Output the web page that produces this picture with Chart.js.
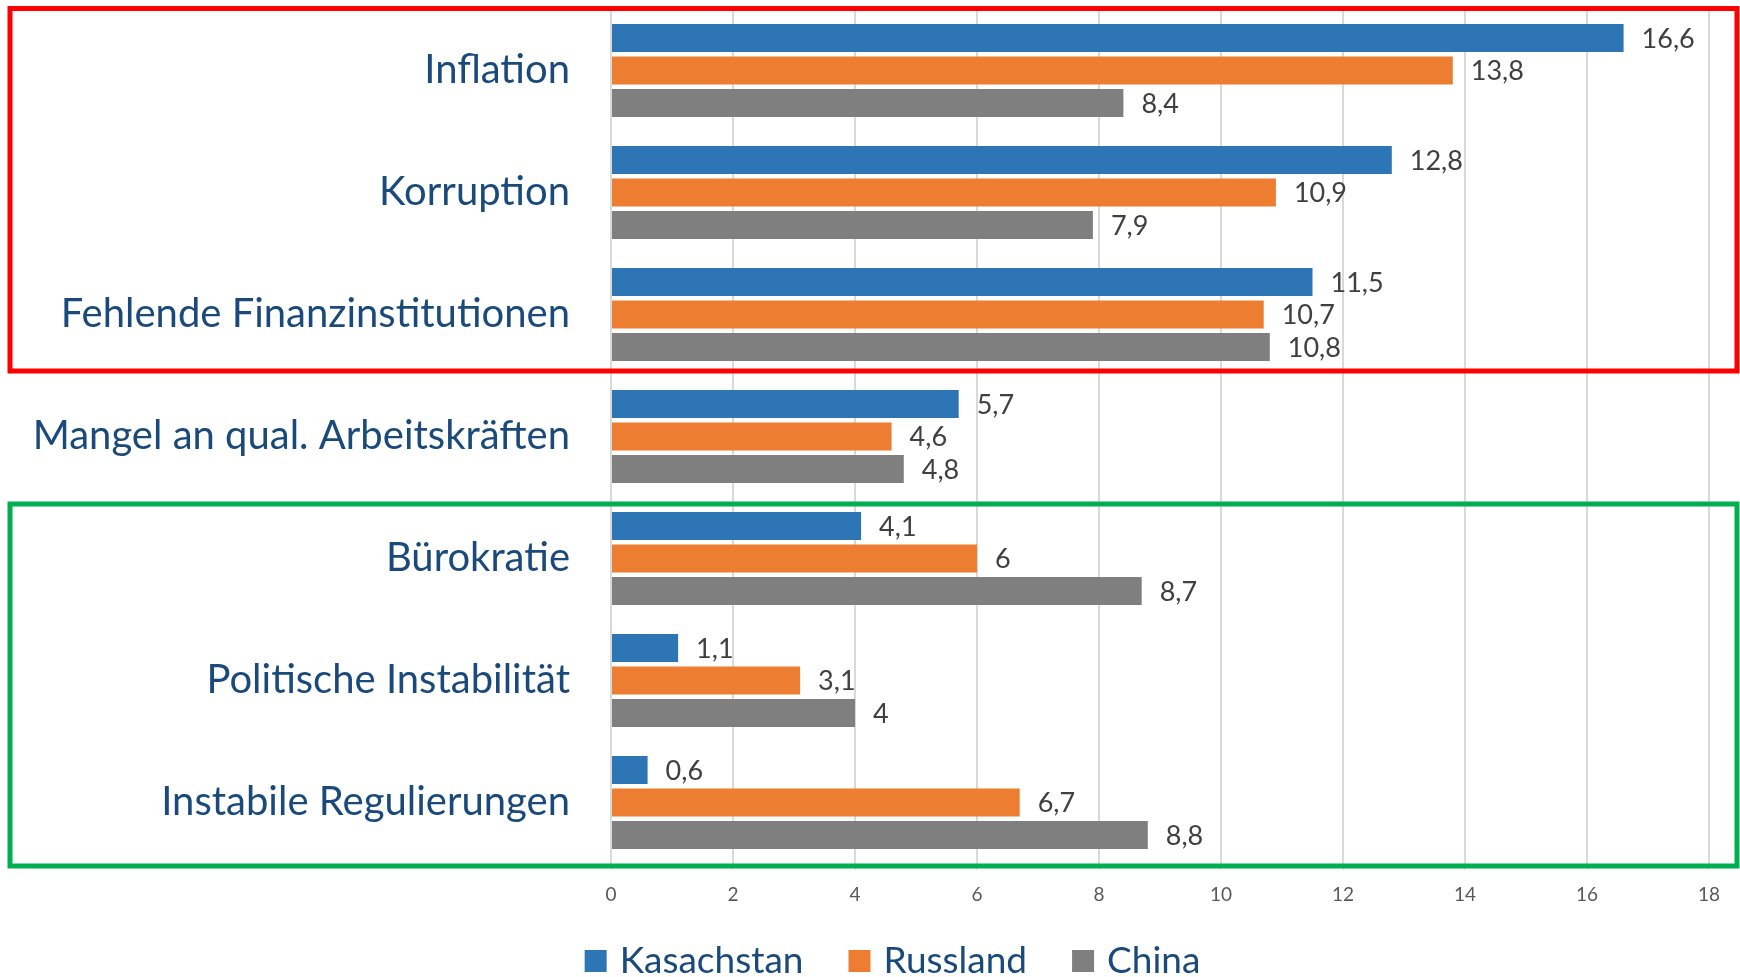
<!DOCTYPE html>
<html>
<head>
<meta charset="utf-8">
<script src="https://cdn.jsdelivr.net/npm/chart.js@4.4.0/dist/chart.umd.min.js"></script>
<style>
  html, body { margin: 0; padding: 0; background: #fff; }
  #wrap { width: 1740px; height: 977px; position: relative; }
</style>
</head>
<body>
<div id="wrap"><canvas id="myChart"></canvas></div>
<script>
const categories = [
  "Inflation",
  "Korruption",
  "Fehlende Finanzinstitutionen",
  "Mangel an qual. Arbeitskräften",
  "Bürokratie",
  "Politische Instabilität",
  "Instabile Regulierungen",
];
const kasachstan = [16.6, 12.8, 11.5, 5.7, 4.1, 1.1, 0.6];
const russland = [13.8, 10.9, 10.7, 4.6, 6, 3.1, 6.7];
const china = [8.4, 7.9, 10.8, 4.8, 8.7, 4, 8.8];
const xTicks = [0, 2, 4, 6, 8, 10, 12, 14, 16, 18];

// red box: first three categories, green box: last three
const redGroup = [0, 2];
const greenGroup = [4, 6];

const labelColor = "#1a4a7c";
const axisWidth = 611;
const padRight = 31;
const legendLeft = 76; // legend is centred between here and the plot's right edge

function fmt(v) {
  return v.toString().replace(".", ",");
}

const valueLabels = {
  id: "valueLabels",
  afterDatasetsDraw(chart) {
    const ctx = chart.ctx;
    ctx.save();
    ctx.font = "27px Lato";
    ctx.fillStyle = "#404040";
    ctx.textAlign = "left";
    ctx.textBaseline = "middle";
    chart.data.datasets.forEach((ds, i) => {
      const meta = chart.getDatasetMeta(i);
      meta.data.forEach((bar, j) => {
        ctx.fillText(fmt(ds.data[j]), bar.x + 18, bar.y + 1);
      });
    });
    ctx.restore();
  },
};

const groupBoxes = {
  id: "groupBoxes",
  afterDraw(chart) {
    const ctx = chart.ctx;
    const y = chart.scales.y;
    const band = y.getPixelForValue(1) - y.getPixelForValue(0);
    const left = 10;
    const right = chart.width - 3;
    ctx.save();
    ctx.lineWidth = 5;

    ctx.strokeStyle = "#ff0000";
    let top = y.getPixelForValue(redGroup[0]) - band / 2 - 1;
    let bottom = y.getPixelForValue(redGroup[1]) + band / 2 - 4.5;
    ctx.strokeRect(left, top, right - left, bottom - top);

    ctx.strokeStyle = "#00b050";
    top = y.getPixelForValue(greenGroup[0]) - band / 2 + 6.5;
    bottom = y.getPixelForValue(greenGroup[1]) + band / 2 + 2.5;
    ctx.strokeRect(left, top, right - left, bottom - top);
    ctx.restore();
  },
};

// legend drawn by hand so the gaps match: box, gap, text, wider gap
const bottomLegend = {
  id: "bottomLegend",
  afterDraw(chart) {
    const ctx = chart.ctx;
    const box = 22;
    const gap = 13;
    const spacing = 45;
    ctx.save();
    ctx.font = "37px Lato";
    ctx.textBaseline = "middle";
    ctx.textAlign = "left";
    const items = chart.data.datasets.map((ds) => ({
      text: ds.label,
      color: ds.backgroundColor,
      w: box + gap + ctx.measureText(ds.label).width,
    }));
    const total =
      items.reduce((s, it) => s + it.w, 0) + spacing * (items.length - 1);
    let x = (legendLeft + chart.chartArea.right) / 2 - total / 2;
    const cy = chart.height - 16;
    items.forEach((it) => {
      ctx.fillStyle = it.color;
      ctx.fillRect(x, cy - box / 2, box, box);
      ctx.fillStyle = labelColor;
      ctx.fillText(it.text, x + box + gap, cy);
      x += it.w + spacing;
    });
    ctx.restore();
  },
};

new Chart("myChart", {
  type: "bar",
  data: {
    labels: categories,
    datasets: [
      {
        label: "Kasachstan",
        data: kasachstan,
        backgroundColor: "#2e75b6",
      },
      {
        label: "Russland",
        data: russland,
        backgroundColor: "#ed7d31",
      },
      {
        label: "China",
        data: china,
        backgroundColor: "#7f7f7f",
      },
    ],
  },
  options: {
    indexAxis: "y",
    responsive: true,
    maintainAspectRatio: false,
    animation: false,
    datasets: {
      bar: {
        categoryPercentage: 0.8,
        barPercentage: 0.86,
      },
    },
    layout: {
      padding: { left: 0, right: padRight, top: 9.5, bottom: 34 },
    },
    plugins: {
      legend: { display: false },
      tooltip: { enabled: false },
    },
    scales: {
      x: {
        min: 0,
        max: 18,
        afterBuildTicks(scale) {
          scale.ticks = xTicks.map((v) => ({ value: v }));
        },
        afterFit(scale) {
          scale.height = 79.5;
        },
        border: { display: false },
        grid: {
          color: "#d9d9d9",
          lineWidth: 2,
          tickLength: 6,
        },
        ticks: {
          padding: 14,
          color: "#595959",
          font: { family: "Lato", size: 19 },
        },
      },
      y: {
        afterFit(scale) {
          scale.width = axisWidth;
          scale.paddingTop = 0;
          scale.paddingBottom = 0;
        },
        border: { display: false },
        grid: { display: false, drawTicks: false },
        ticks: {
          padding: 41,
          color: labelColor,
          font: { family: "Lato", size: 40 },
        },
      },
    },
  },
  plugins: [valueLabels, groupBoxes, bottomLegend],
});
</script>
</body>
</html>
